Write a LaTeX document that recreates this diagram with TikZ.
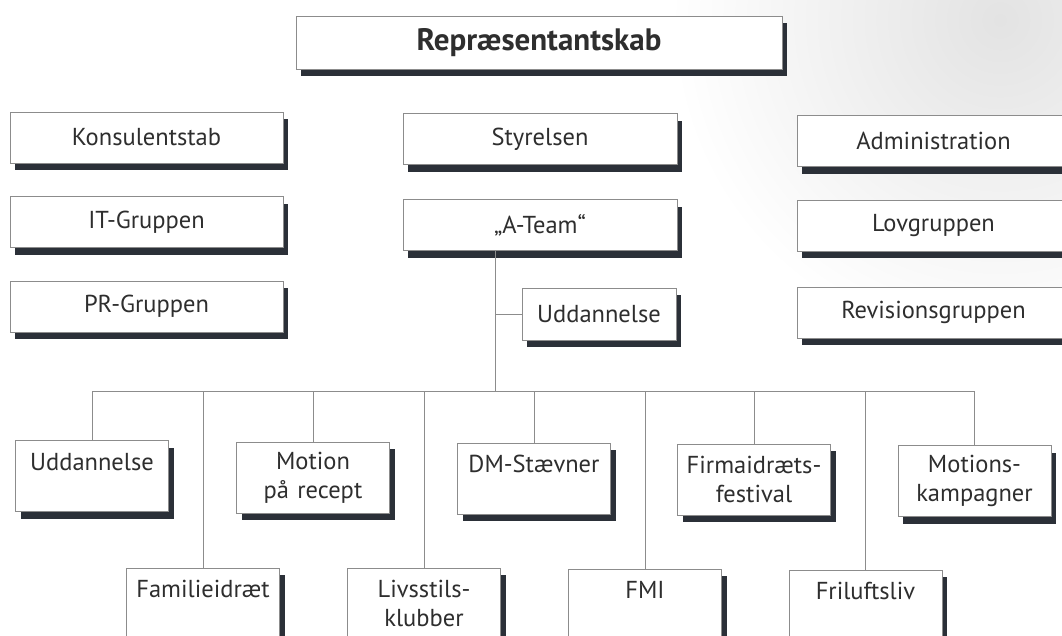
\documentclass[tikz,border=0pt]{standalone}
\usepackage{fontspec}
\setmainfont{PT Sans}
\usetikzlibrary{shadows}
\definecolor{shadowc}{HTML}{2B3038}
\definecolor{edgec}{HTML}{8C8C8C}
\definecolor{textc}{HTML}{2E2E2E}
\tikzset{
  box/.style={draw=edgec, line width=0.6pt, fill=white, inner sep=0pt, text=textc,
    font=\fontsize{24.5}{29}\selectfont, align=center,
    drop shadow={shadow xshift=5pt, shadow yshift=-7pt, fill=shadowc, opacity=1}},
  wide/.style={box, minimum width=273pt, minimum height=51pt},
  small/.style={box, minimum width=154pt, minimum height=52pt},
  low/.style={box, minimum width=153pt, minimum height=71pt, text width=153pt},
  conn/.style={draw=edgec, line width=0.6pt}
}
\begin{document}
\begin{tikzpicture}[x=1pt,y=-1pt]
\useasboundingbox (0,0) rectangle (1062,635);
\fill[white] (0,0) rectangle (1062,635);
\shade[inner color=gray!22, outer color=white] (1000,20) circle (330);
\fill[white] (0,330) rectangle (1062,635);

\node[box, minimum width=486pt, minimum height=53pt, font=\fontsize{31}{36}\selectfont\bfseries] (rep) at (539,42.5) {Repræsentantskab};

\node[wide] (kons) at (146.5,137.5) {Konsulentstab};
\node[wide] (it) at (146.5,222) {IT-Gruppen};
\node[wide] (pr) at (146.5,306.5) {PR-Gruppen};

\node[wide, minimum width=274pt] (sty) at (540,139) {Styrelsen};
\node[wide, minimum width=274pt] (ateam) at (540,225) {„A-Team“};
\node[small] (udmid) at (599,314) {Uddannelse};

\node[wide] (adm) at (933.5,141) {Administration};
\node[wide] (lov) at (933.5,225.5) {Lovgruppen};
\node[wide] (rev) at (933.5,312.5) {Revisionsgruppen};

\node[low] (udd) at (92,476) {Uddannelse\\\mbox{}};
\node[low] (mot) at (313,477.5) {Motion\\på recept};
\node[low] (dm) at (534,478.5) {DM-Stævner\\\mbox{}};
\node[low] (firma) at (754,479.5) {Firmaidræts-\\festival};
\node[low] (mk) at (974.5,481) {Motions-\\kampagner};

\node[low] (fam) at (203,603.5) {Familieidræt\\\mbox{}};
\node[low] (livs) at (424,603.5) {Livsstils-\\klubber};
\node[low] (fmi) at (645,604.5) {FMI\\\mbox{}};
\node[low] (fril) at (865.5,605.5) {Friluftsliv\\\mbox{}};

\coordinate (top) at (495,251);
\coordinate (bus) at (495,391);

\draw[conn] (top) -- (bus);
\draw[conn] (top |- udmid.west) -- (udmid.west);
\draw[conn] (udd.north) -- (udd.north |- bus) -- (mk.north |- bus) -- (mk.north);
\foreach \n in {mot,dm,firma,fam,livs,fmi,fril}
  \draw[conn] (\n.north) -- (\n.north |- bus);
\end{tikzpicture}
\end{document}
